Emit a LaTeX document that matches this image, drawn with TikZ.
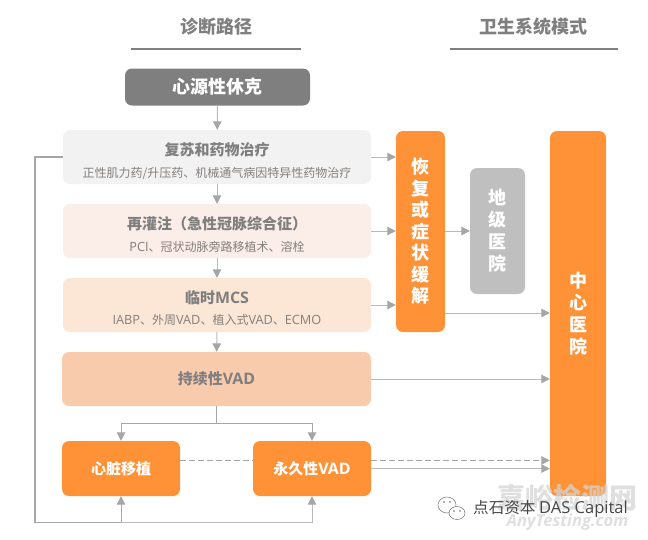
\documentclass[tikz,border=0pt]{standalone}
\usepackage{fontspec}
\setmainfont{Noto Sans CJK SC}
\newfontfamily\lat[Scale=1.06]{Open Sans}
\usetikzlibrary{arrows.meta}
\definecolor{arrowgray}{HTML}{A6A6A6}
\definecolor{linegray}{HTML}{BABABA}
\definecolor{textgray}{HTML}{7F7F7F}
\definecolor{subgray}{HTML}{857F7B}
\definecolor{orangeA}{HTML}{FF9137}
\definecolor{fillA}{HTML}{F2F2F2}
\definecolor{fillB}{HTML}{FBEDE8}
\definecolor{fillC}{HTML}{FCE6D6}
\definecolor{fillD}{HTML}{F8CBAD}
\definecolor{fillK}{HTML}{BFBFBF}
\definecolor{markgray}{HTML}{D4D4D4}
\tikzset{
  x=1pt,y=-1pt,
  wbox/.style={fill=#1,rounded corners=7pt,inner sep=0pt,align=center},
  arr/.style={draw=linegray,line width=1pt,-{Triangle[length=8.5pt,width=8.5pt,fill=arrowgray,color=arrowgray]}},
  lin/.style={draw=linegray,line width=1pt},
  darkline/.style={draw=arrowgray},
  dashline/.style={dash pattern=on 6pt off 3pt},
  head/.style={font=\fontsize{18}{20}\selectfont\bfseries,text=textgray},
  main/.style={font=\fontsize{15}{17}\selectfont\bfseries,text=textgray},
  subt/.style={font=\fontsize{12}{14}\selectfont,text=subgray},
  vert/.style={font=\fontsize{18}{18}\selectfont\bfseries,text=white,text width=20pt},
}
\begin{document}
\begin{tikzpicture}
\useasboundingbox (0,0) rectangle (648,539);
\node[head] (h1) at (216,27) {诊断路径};
\node[head] (h2) at (533,27) {卫生系统模式};
\coordinate (r1a) at (131,49); \coordinate (r1b) at (301,49);
\coordinate (r2a) at (450,49); \coordinate (r2b) at (618,49);
\draw[textgray,line width=1.4pt] (r1a) -- (r1b);
\draw[textgray,line width=1.4pt] (r2a) -- (r2b);
\node[wbox=textgray,minimum width=185pt,minimum height=37pt,font=\fontsize{18}{20}\selectfont\bfseries,text=white] (top) at (217.5,87) {心源性休克};
\node[wbox=fillA,minimum width=308pt,minimum height=54pt] (a) at (217,157) {};
\node[main] (at) at (217,150) {复苏和药物治疗};
\node[subt] (as) at (217,174) {正性肌力药/升压药、机械通气病因特异性药物治疗};
\node[wbox=fillB,minimum width=308pt,minimum height=54pt] (b) at (217,231) {};
\node[main] (bt) at (217,224) {再灌注（急性冠脉综合征）};
\node[subt] (bs) at (217,247) {{\lat PCI}、冠状动脉旁路移植术、溶栓};
\node[wbox=fillC,minimum width=308pt,minimum height=54pt] (c) at (217,305) {};
\node[main] (ct) at (217,298) {临时{\lat MCS}};
\node[subt] (cs) at (217,320) {{\lat IABP}、外周{\lat VAD}、植入式{\lat VAD}、{\lat ECMO}};
\node[wbox=fillD,minimum width=309pt,minimum height=54pt,main] (d) at (216.5,379) {持续性{\lat VAD}};
\node[wbox=orangeA,minimum width=118pt,minimum height=55pt,main,text=white] (e) at (121,468.5) {心脏移植};
\node[wbox=orangeA,minimum width=118pt,minimum height=55pt,main,text=white] (f) at (312,468.5) {永久性{\lat VAD}};
\node[wbox=orangeA,minimum width=49pt,minimum height=201pt,vert] (g) at (420.5,231.5) {恢\\[3.5pt]复\\[3.5pt]或\\[3.5pt]症\\[3.5pt]状\\[3.5pt]缓\\[3.5pt]解};
\node[wbox=fillK,minimum width=55pt,minimum height=126pt,vert] (k) at (497.5,231) {地\\[4pt]级\\[4pt]医\\[4pt]院};
\node[wbox=orangeA,minimum width=56pt,minimum height=365pt,vert] (m) at (578,313.5) {中\\[4pt]心\\[4pt]医\\[4pt]院};
\draw[arr] (top) -- (a);
\draw[arr] (a) -- (b);
\draw[arr] (b) -- (c);
\draw[arr] (c) -- (d);
\draw[arr] (a.east) -- (g.west |- a.east);
\draw[arr] (b.east) -- (g.west |- b.east);
\draw[arr] (c.east) -- (g.west |- c.east);
\draw[arr] (g.east |- k.west) -- (k.west);
\coordinate (gout) at (445,313);
\draw[arr] (gout) -- (m.west |- gout);
\draw[arr] (d.east) -- (m.west |- d.east);
\coordinate (split) at (216.5,423.3);
\draw[lin,darkline] (d.south) -- (split);
\draw[arr,darkline] (split) -| (e.north);
\draw[arr,darkline] (split) -| (f.north);
\coordinate (dash1) at (180,460.4);
\coordinate (dash2) at (253,460.4);
\coordinate (dash3) at (371,460.4);
\draw[lin,darkline,dashline] (dash1) -- (dash2);
\draw[arr,darkline,dashline] (dash3) -- (m.west |- dash3);
\coordinate (perm) at (371,468.6);
\draw[arr] (perm) -- (m.west |- perm);
\coordinate (fb1) at (35,157);
\coordinate (fb2) at (35,522.7);
\coordinate (fb3) at (121,522.7);
\coordinate (fb4) at (312,522.7);
\draw[lin,darkline,line width=1.1pt] (a.west) -- (fb1) -- (fb2) -- (fb3);
\draw[arr,darkline] (fb3) -- (e.south);
\draw[arr] (fb3) -- (fb4) -- (f.south);
\node[font=\fontsize{28}{30}\selectfont\bfseries,text=markgray,text opacity=.75] (wm1) at (567.5,498) {嘉峪检测网};
\node[font=\fontsize{15.6}{18}\selectfont\bfseries\itshape\lat,text=markgray,text opacity=.75] (wm2) at (567.5,522) {AnyTesting.com};
\node[font=\fontsize{15.6}{17}\selectfont,text=black!72] (wm3) at (550.5,509) {点石资本 {\lat DAS Capital}};
\coordinate (wc1) at (447,505);
\coordinate (wc2) at (457,513);
\draw[black!55,line width=.5pt,fill=white] (wc1) ellipse (9pt and 8pt);
\draw[black!55,line width=.5pt,fill=white] (wc2) ellipse (8pt and 6.5pt);
\fill[black!60] (444,502) circle (.9pt) (450,502) circle (.9pt) (454,511) circle (.8pt) (460,511) circle (.8pt);
\end{tikzpicture}
\end{document}
